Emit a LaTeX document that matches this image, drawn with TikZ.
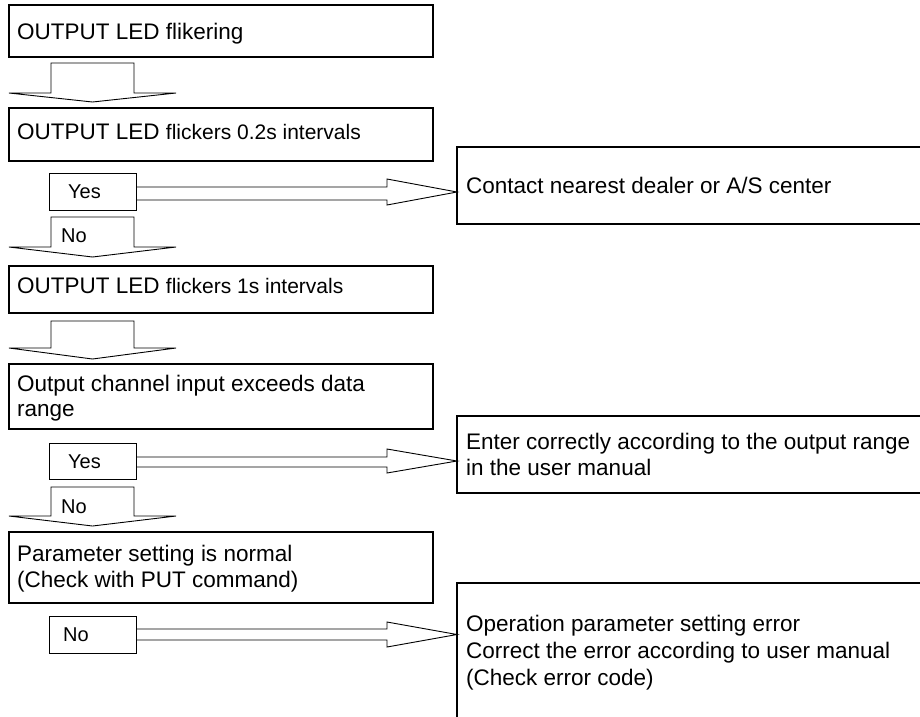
\documentclass[tikz,border=0pt]{standalone}
\usepackage{fontspec}
\setmainfont{Liberation Sans}
\begin{document}
\begin{tikzpicture}[x=1pt,y=-1pt,
  box/.style={draw=black, line width=2pt, inner sep=0pt, outer sep=0pt, anchor=north west},
  lblbox/.style={draw=black, line width=0.9pt, inner sep=0pt, outer sep=0pt, anchor=north west},
  blk/.style={draw=black, line width=0.9pt, line join=miter},
  txt/.style={inner sep=0pt, anchor=base west, font=\fontsize{22.5}{26.5}\selectfont},
  lbl/.style={inner sep=0pt, anchor=base west, font=\fontsize{20}{24}\selectfont}]
\useasboundingbox (0,0) rectangle (920,716);
\clip (0,0) rectangle (920,716);
\newcommand\smf{\fontsize{21}{25}\selectfont}

% main boxes
\node[box, minimum width=424pt, minimum height=52pt] (b1) at (9,5) {};
\node[box, minimum width=424pt, minimum height=53pt] (b2) at (9,108) {};
\node[box, minimum width=424pt, minimum height=47pt] (b3) at (9,266) {};
\node[box, minimum width=424pt, minimum height=65pt] (b4) at (9,364) {};
\node[box, minimum width=424pt, minimum height=71pt] (b5) at (9,532) {};

% right boxes (cut by the picture edge)
\node[box, minimum width=480pt, minimum height=77pt] (r1) at (457,147) {};
\node[box, minimum width=480pt, minimum height=77pt] (r2) at (457,416) {};
\node[box, minimum width=480pt, minimum height=170pt] (r3) at (457,583) {};

% texts
\node[txt] (t1) at (17,39) {OUTPUT LED flikering};
\node[txt] (t2) at (17,139) {OUTPUT LED {\smf flickers 0.2s intervals}};
\node[txt] (t3) at (17,293) {OUTPUT LED {\smf flickers 1s intervals}};
\node[txt] (t4a) at (17,391) {Output channel input exceeds data};
\node[txt] (t4b) at (17,416) {range};
\node[txt] (t5a) at (17,561) {Parameter setting is normal};
\node[txt] (t5b) at (17,587) {(Check with PUT command)};
\node[txt] (tr1) at (466,193) {Contact nearest dealer or A/S center};
\node[txt] (tr2a) at (466,449) {Enter correctly according to the output range};
\node[txt] (tr2b) at (466,475) {in the user manual};
\node[txt] (tr3a) at (466,631) {Operation parameter setting error};
\node[txt] (tr3b) at (466,658) {Correct the error according to user manual};
\node[txt] (tr3c) at (466,685) {(Check error code)};

% down block arrows
\draw[blk] (51,63) -- (51,93) -- (9,93) -- (92.5,102) -- (176,93) -- (134,93) -- (134,63) -- cycle;
\draw[blk] (51,217) -- (51,247) -- (9,247) -- (92.5,257) -- (176,247) -- (134,247) -- (134,217) -- cycle;
\draw[blk] (51,321) -- (51,348) -- (9,348) -- (92.5,359) -- (176,348) -- (134,348) -- (134,321) -- cycle;
\draw[blk] (51,487) -- (51,516) -- (9,516) -- (92.5,526) -- (176,516) -- (134,516) -- (134,487) -- cycle;

% label boxes
\node[lblbox, minimum width=87pt, minimum height=37pt] (y1) at (49,173) {};
\node[lblbox, minimum width=87pt, minimum height=36pt] (y2) at (49,443) {};
\node[lblbox, minimum width=87pt, minimum height=37pt] (n3) at (49,616) {};

% right block arrows
\draw[blk] (y1.east |- 0,187) -- (387,187) -- (387,179) -- (r1.west |- 0,192) -- (387,205) -- (387,200) -- (y1.east |- 0,200);
\draw[blk] (y2.east |- 0,457) -- (387,457) -- (387,449) -- (r2.west |- 0,461) -- (387,473) -- (387,467) -- (y2.east |- 0,467);
\draw[blk] (n3.east |- 0,629) -- (387,629) -- (387,622) -- (r3.west |- 0,634.5) -- (387,647) -- (387,640) -- (n3.east |- 0,640);

% labels
\node[lbl] (ly1) at (68,198) {Yes};
\node[lbl] (ln1) at (61,242) {No};
\node[lbl] (ly2) at (68,468) {Yes};
\node[lbl] (ln2) at (61,513) {No};
\node[lbl] (ln3) at (63,641) {No};
\end{tikzpicture}
\end{document}
